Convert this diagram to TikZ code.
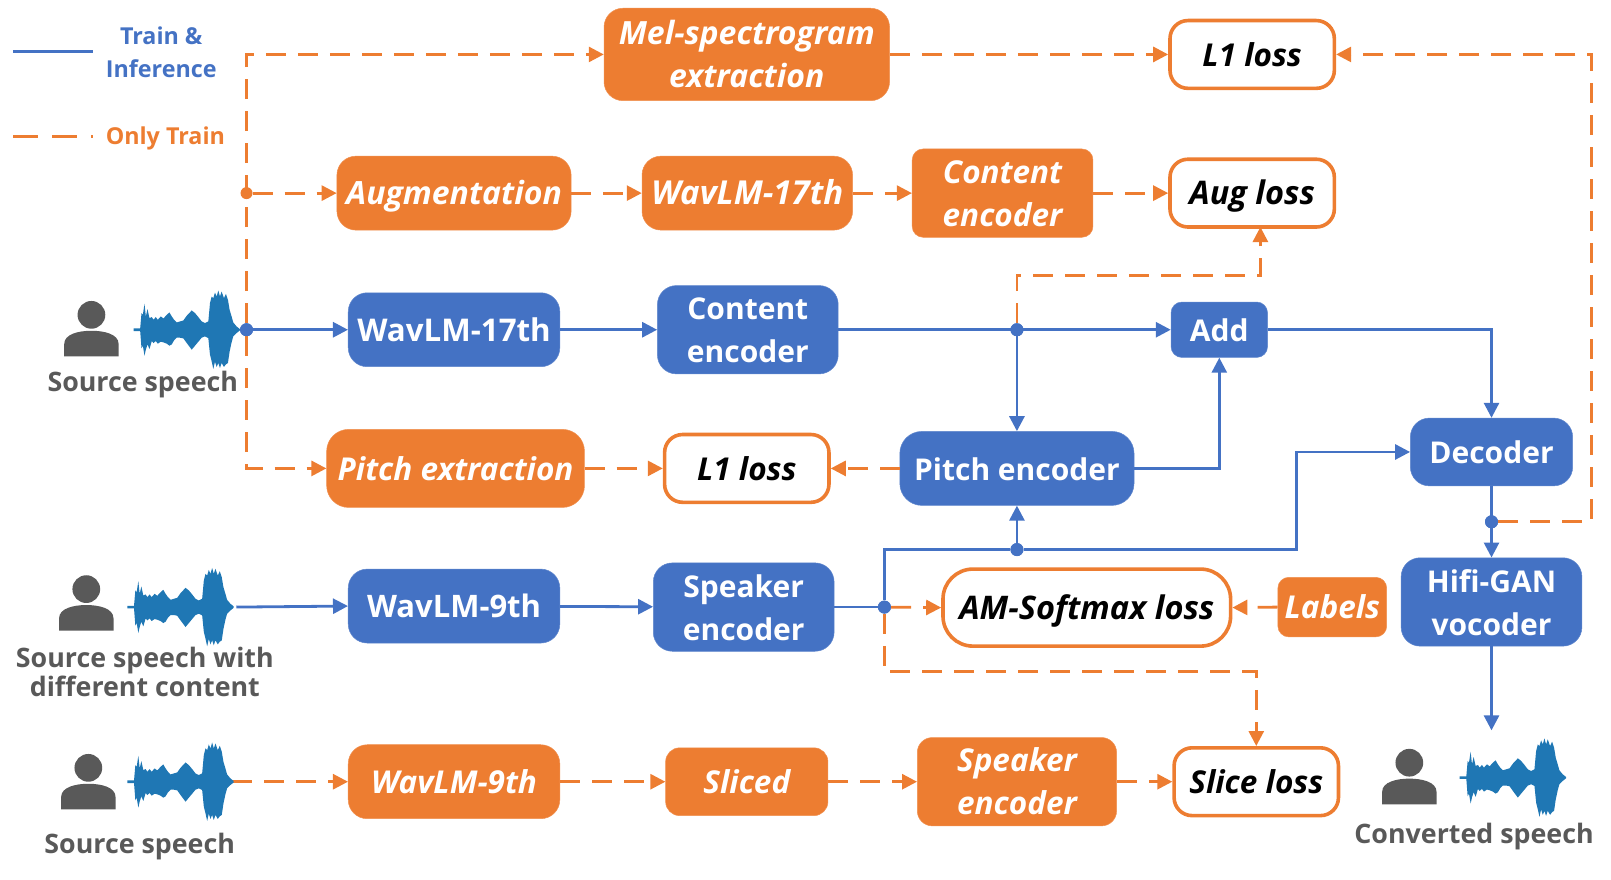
\documentclass[tikz,border=0pt]{standalone}
\usepackage{fontspec}
\setmainfont{Open Sans}
\usetikzlibrary{arrows.meta,calc}
\definecolor{bl}{HTML}{4472C4}
\definecolor{og}{HTML}{ED7D31}
\definecolor{gy}{HTML}{595959}
\definecolor{wv}{HTML}{1F77B4}
\tikzset{
  fs/.style={font=\fontsize{#1}{43}\selectfont\bfseries},
  fi/.style={font=\fontsize{#1}{43}\selectfont\bfseries\itshape},
  basebox/.style={rounded corners=19pt,inner sep=0pt,align=center,fs=30,text=white},
  bbox/.style={basebox,fill=bl,draw=bl!85!white,line width=.5pt},
  obox/.style={basebox,fill=og,draw=og!85!white,line width=.5pt,fi=31.5},
  lbox/.style={basebox,fill=white,draw=og,line width=3.6pt,text=black,fi=31.5},
  tinyr/.style={rounded corners=11pt},
  bline/.style={draw=bl,line width=2.8pt},
  oline/.style={draw=og,line width=2.8pt,dash pattern=on 20pt off 12pt},
  arr/.style={-{Triangle[length=15pt,width=15pt]}},
  jct/.style={circle,inner sep=0pt,minimum size=13pt,fill=bl,draw=none},
  captxt/.style={text=gy,align=center,font=\fontsize{26.8}{29}\selectfont\bfseries,inner sep=0pt},
  legtxt/.style={align=center,inner sep=0pt,font=\fontsize{23.3}{33}\selectfont\bfseries},
}
\newcommand\vstrut{\rule[-9.8pt]{0pt}{42.8pt}}
\newcommand\bx[7]{%
  \pgfmathsetmacro\cxx{(#3+#5)/2}\pgfmathsetmacro\cyy{(#4+#6)/2}%
  \pgfmathsetmacro\ww{(#5-#3)*1.0272}\pgfmathsetmacro\hh{(#6-#4)*1.0272}%
  \node[#2,minimum width=\ww pt,minimum height=\hh pt] (#1) at (\cxx,\cyy) {\vstrut #7\vstrut};}
\newcommand\person[2]{%
  \begin{scope}[shift={(#1,#2)}]
    \fill[gy] (0,13.5) circle[radius=13.5];
    \fill[gy] (-26.5,54) -- (-26.5,42) .. controls (-26.5,32) and (-12,29) .. (0,29) .. controls (12,29) and (26.5,32) .. (26.5,42) -- (26.5,54) -- cycle;
  \end{scope}}
\newcommand\wave[2]{%
  \begin{scope}[shift={(#1,#2)},scale=.3236]
    \fill[wv] (0,-4) -- (20,-4) -- (24,-50) -- (28,-45) -- (33,-78) -- (37,-40) -- (42,-62) -- (48,-35) -- (55,-38) -- (60,-30) -- (67,-38) -- (73,-30) -- (82,-40) -- (90,-34) -- (100,-45) -- (108,-52) -- (115,-40) -- (122,-30) -- (130,-22) -- (140,-25) -- (150,-28) -- (160,-42) -- (175,-58) -- (185,-50) -- (195,-38) -- (205,-25) -- (215,-20) -- (225,-25) -- (230,-80) -- (235,-100) -- (240,-95) -- (245,-112) -- (250,-100) -- (255,-118) -- (260,-100) -- (265,-115) -- (272,-95) -- (278,-108) -- (284,-90) -- (289,-60) -- (295,-40) -- (300,-22) -- (310,-10) -- (320,-2)
    -- (320,2) -- (310,10) -- (300,20) -- (295,38) -- (289,66) -- (284,100) -- (278,104) -- (272,112) -- (265,100) -- (260,115) -- (255,100) -- (250,112) -- (245,96) -- (240,118) -- (235,95) -- (230,75) -- (225,25) -- (215,20) -- (205,24) -- (195,36) -- (185,48) -- (175,60) -- (160,40) -- (150,26) -- (140,24) -- (130,24) -- (122,32) -- (115,44) -- (108,48) -- (100,42) -- (90,38) -- (82,36) -- (73,42) -- (67,34) -- (60,40) -- (55,34) -- (48,58) -- (42,44) -- (37,60) -- (33,78) -- (28,48) -- (24,56) -- (20,4) -- (0,4) -- cycle;
  \end{scope}}
\begin{document}
\begin{tikzpicture}[x=1.0272pt,y=-1.0272pt]
\useasboundingbox (0,0) rectangle (1568.33,855.72);
% boxes
\bx{mel}{obox,fi=32}{588}{8}{866}{98}{Mel-spectrogram\\extraction}
\bx{loa}{lbox,rounded corners=18pt}{1139}{20}{1299}{86}{L1 loss}
\bx{aug}{obox,fi=32}{328}{152}{556}{224}{Augmentation}
\bx{woa}{obox,fi=33}{625}{152}{830}{224}{WavLM-17th}
\bx{coa}{obox,tinyr}{888}{145}{1064}{231}{Content\\encoder}
\bx{agl}{lbox,rounded corners=18pt,fi=32.5}{1139}{155}{1299}{221}{Aug loss}
\bx{wba}{bbox,fs=31.3}{339}{285}{545}{357}{WavLM-17th}
\bx{cba}{bbox}{640}{278}{816}{364}{Content\\encoder}
\bx{add}{bbox,tinyr}{1140}{294}{1234}{348}{Add}
\bx{pex}{obox,rounded corners=22pt}{318}{418}{569}{494}{Pitch extraction}
\bx{lob}{lbox,rounded corners=18pt}{647}{423}{807}{489}{L1 loss}
\bx{pen}{bbox,rounded corners=22pt}{876}{420}{1104}{492}{Pitch encoder}
\bx{dec}{bbox}{1373}{407}{1531}{473}{Decoder}
\bx{wbb}{bbox,fs=31}{339}{554}{545}{626}{WavLM-9th}
\bx{sba}{bbox}{636}{548}{812}{634}{Speaker\\encoder}
\bx{aml}{lbox,rounded corners=30pt,fi=32.5}{918}{554}{1198}{629}{AM-Softmax loss}
\bx{lab}{obox,tinyr}{1244}{562}{1350}{620}{Labels}
\bx{hif}{bbox}{1364}{543}{1540}{629}{Hifi-GAN\\vocoder}
\bx{wob}{obox}{339}{725}{545}{797}{WavLM-9th}
\bx{sli}{obox,rounded corners=14pt}{648}{728}{806}{794}{Sliced}
\bx{soa}{obox,rounded corners=15pt}{893}{718}{1087}{804}{Speaker\\encoder}
\bx{sll}{lbox,rounded corners=18pt}{1143}{728}{1303}{794}{Slice loss}
% junctions and free ends
\node[jct] (dsrc) at (240,321) {};
\node[jct,fill=og,minimum size=12pt] (dtop) at (240,188) {};
\node[jct] (dmid) at (990,321) {};
\node[jct] (dspk) at (861,591) {};
\node[jct] (dpit) at (990,535) {};
\node[jct] (ddec) at (1452,508) {};
\coordinate (auge) at (1227,221);
\coordinate (agup) at (1227,268);
\coordinate (rcor) at (1549,508);
\coordinate (cspk) at (861,535);
\coordinate (bend) at (1262,535);
\coordinate (vend) at (1452,711);
\coordinate (wtwo) at (230,591);
\coordinate (wthr) at (226,761);
\coordinate (sdip) at (1223,654);
\coordinate (legbs) at (13,50);
\coordinate (legbe) at (91,50);
\coordinate (legos) at (13,133);
\coordinate (legoe) at (91,133);
% orange connectors
\draw[oline,arr] (dsrc) |- (mel.west);
\draw[oline,arr] (dtop) -- (aug.west);
\draw[oline,arr] (dsrc) |- (pex.west);
\draw[oline,arr] (mel) -- (loa);
\draw[oline,arr] (aug) -- (woa);
\draw[oline,arr] (woa) -- (coa);
\draw[oline,arr] (coa) -- (agl);
\draw[oline,arr] (dmid) |- (agup) -- (auge);
\draw[oline,arr] (ddec) -- (rcor) |- (loa.east);
\draw[oline,arr] (pex) -- (lob);
\draw[oline,arr] (pen) -- (lob);
\draw[oline,arr] (dspk) -- (aml.west);
\draw[oline,arr] (lab.west) -- (aml.east);
\draw[oline,arr] (dspk) |- (sdip) -- (sll.north);
\draw[oline,arr] (wthr) -- (wob.west);
\draw[oline,arr] (wob) -- (sli);
\draw[oline,arr] (sli) -- (soa);
\draw[oline,arr] (soa) -- (sll);
% blue connectors
\draw[bline,arr] (dsrc) -- (wba.west);
\draw[bline,arr] (wba) -- (cba);
\draw[bline,arr] (cba) -- (add);
\draw[bline,arr] (dmid) -- (pen.north);
\draw[bline,arr] (pen.east) -| (add.south);
\draw[bline,arr] (add.east) -| (dec.north);
\draw[bline,arr] (dec) -- (hif);
\draw[bline,arr] (hif) -- (vend);
\draw[bline,arr] (wtwo) -- (wbb.west);
\draw[bline,arr] (wbb) -- (sba);
\draw[bline] (sba.east) -- (dspk);
\draw[bline] (dspk) -- (cspk) -- (dpit);
\draw[bline,arr] (dpit) -- (pen.south);
\draw[bline,arr] (dpit) -- (bend) |- (dec.west);
% junctions redrawn on top
\node[jct] at (dmid) {};
\node[jct] at (dspk) {};
\node[jct] at (dpit) {};
\node[jct] at (ddec) {};
% people and waves
\person{89}{293}\wave{130}{321}
\person{84}{560}\wave{124}{591}
\person{86}{734}\wave{124}{761}
\person{1372}{729}\wave{1421}{757}
\node[jct] at (dsrc) {};
% captions
\node[captxt] (c1) at (139,374) {Source speech};
\node[captxt] (c2) at (141,654) {Source speech with\\different content};
\node[captxt] (c3) at (136,824) {Source speech};
\node[captxt] (c4) at (1435,814) {Converted speech};
% legend
\draw[bline] (legbs) -- (legbe);
\draw[oline,dash pattern=on 25pt off 14pt] (legos) -- (legoe);
\node[legtxt,text=bl] (t1) at (157,51) {Train \&\\Inference};
\node[legtxt,text=og] (t2) at (161,135) {Only Train};
\end{tikzpicture}
\end{document}
